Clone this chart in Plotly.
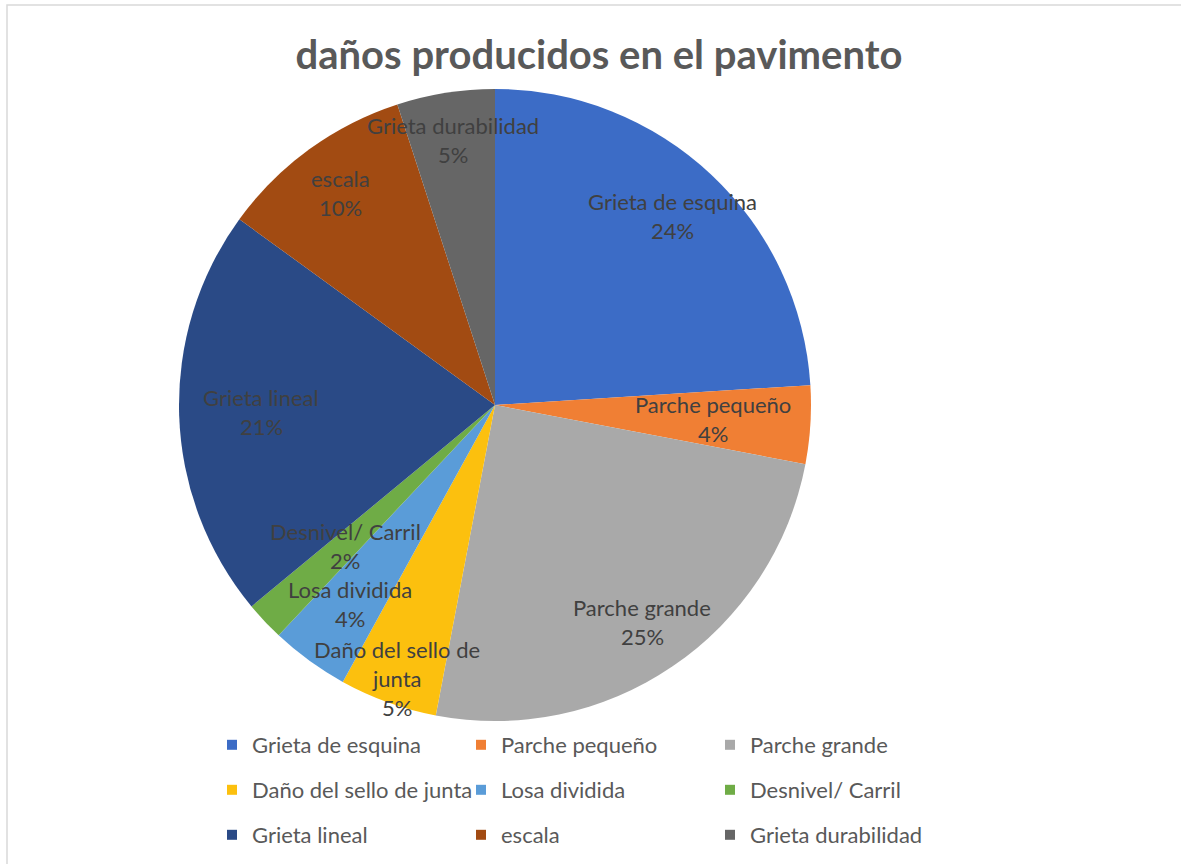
import math
import plotly.graph_objects as go

# Pavement distress survey: share of each damage type (%)
labels = [
    "Grieta de esquina", "Parche pequeño", "Parche grande",
    "Daño del sello de junta", "Losa dividida", "Desnivel/ Carril",
    "Grieta lineal", "escala", "Grieta durabilidad",
]
values = [24, 4, 25, 5, 4, 2, 21, 10, 5]
colors = [
    "#3c6cc6", "#f07f34", "#a9a9a9", "#fcc00e", "#5a9cd8",
    "#6fac46", "#2a4a86", "#a24b12", "#666666",
]
# slice label wrapping (first part / optional continuation)
label_lines = [
    ["Grieta de esquina"], ["Parche pequeño"], ["Parche grande"],
    ["Daño del sello de", "junta"], ["Losa dividida"], ["Desnivel/ Carril"],
    ["Grieta lineal"], ["escala"], ["Grieta durabilidad"],
]
# radial placement of each slice label, as a fraction of the radius
label_radius = [0.82, 0.69, 0.83, 0.92, 0.78, 0.65, 0.74, 0.83, 0.85]

W, H = 1181, 864
CX, CY, R = 495, 405, 316  # pie centre and radius in pixels
FONT = "Lato, 'Open Sans', sans-serif"

fig = go.Figure()
fig.add_trace(go.Pie(
    labels=labels, values=values, sort=False, direction="clockwise",
    rotation=0, marker=dict(colors=colors, line=dict(width=0)),
    textinfo="none", hoverinfo="label+percent", showlegend=False,
    domain=dict(x=[(CX - R) / W, (CX + R) / W],
                y=[(H - CY - R) / H, (H - CY + R) / H]),
))

# slice labels placed at each slice's mid angle
total = sum(values)
annotations = []
cum = 0
line_h = 29
for lab_lines, v, rf in zip(label_lines, values, label_radius):
    mid = (cum + v / 2) / total * 2 * math.pi
    cum += v
    px = CX + rf * R * math.sin(mid)
    py = CY - rf * R * math.cos(mid)
    pct = f"{round(v / total * 100)}%"
    lines = lab_lines + [pct]
    n = len(lines)
    for i, t in enumerate(lines):
        off = (i - (n - 1) / 2) * line_h
        annotations.append(dict(
            x=px / W, y=1 - (py + off) / H, xref="paper", yref="paper",
            text=t, showarrow=False, xanchor="center", yanchor="middle",
            font=dict(family=FONT, size=22, color="#404040"),
        ))

# legend entries, three per row
for i, (lab, col) in enumerate(zip(labels, colors)):
    row = i // 3
    fig.add_trace(go.Scatter(
        x=[None], y=[None], mode="markers", name=lab,
        marker=dict(symbol="square", size=10, color=col),
        legend="legend" if row == 0 else f"legend{row + 1}",
        hoverinfo="skip",
    ))

legend_style = dict(
    orientation="h", x=(212) / W, xanchor="left", yanchor="middle",
    entrywidth=204, bgcolor="rgba(0,0,0,0)", borderwidth=0,
    font=dict(family=FONT, size=22, color="#595959"),
    itemclick=False, itemdoubleclick=False,
)
rows_y = [745, 790, 835]

fig.update_layout(
    width=W, height=H,
    margin=dict(l=0, r=0, t=0, b=0),
    paper_bgcolor="white", plot_bgcolor="white",
    title=dict(text="<b>daños producidos en el pavimento</b>",
               x=599 / W, xanchor="center", y=1 - 55 / H, yanchor="middle",
               font=dict(family=FONT, size=40, color="#595959")),
    xaxis=dict(visible=False), yaxis=dict(visible=False),
    legend=dict(legend_style, y=1 - rows_y[0] / H),
    legend2=dict(legend_style, y=1 - rows_y[1] / H),
    legend3=dict(legend_style, y=1 - rows_y[2] / H),
    annotations=annotations,
    shapes=[dict(type="rect", xref="paper", yref="paper",
                 x0=7 / W, x1=1.02, y0=-0.02, y1=1 - 5 / H,
                 line=dict(color="#d9d9d9", width=1.5))],
)

fig.write_html("out.html")
